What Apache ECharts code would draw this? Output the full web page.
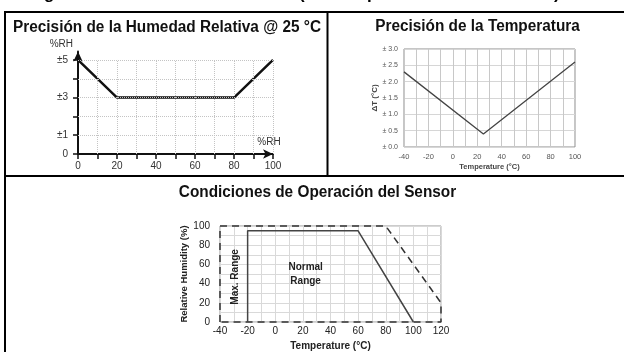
<!DOCTYPE html>
<html>
<head>
<meta charset="utf-8">
<script src="https://cdn.jsdelivr.net/npm/echarts@6/dist/echarts.min.js"></script>
<style>
  html, body { margin: 0; padding: 0; background: #fff; }
  #main { width: 624px; height: 352px; }
</style>
</head>
<body>
<div id="main"></div>
<script>
    // humedad relativa: error (%RH) vs %RH
    var rhPoints = [0, 20, 80, 100];
    var rhError = [5, 3, 3, 5];
    var rhTickLabels = [0, 1, 3, 5];
    var rhTicks = [0, 1, 2, 3, 4, 5];
    // temperatura: error (°C) vs temperatura
    var tPoints = [-40, 25, 100];
    var tError = [2.3, 0.4, 2.6];
    // condiciones de operacion
    var normalT = [-20, -20, 60, 100];
    var normalRH = [0, 95, 95, 0];
    var maxT = [-40, -40, 80, 120, 120, -40];
    var maxRH = [0, 100, 100, 20, 0, 0];
    var rangeNames = ['Max. Range', 'Normal\nRange'];

    var font = 'Liberation Sans';
    var myChart = echarts.init(document.getElementById('main'));

    function pairs(xs, ys) {
        return xs.map(function (x, i) { return [x, ys[i]]; });
    }
    function every20(v) {
        return v % 20 === 0 ? String(v) : '';
    }

    // dotted grid of the first panel, stops at ±5
    var rhGrid = [];
    for (var gx = 10; gx <= 100; gx += 10) {
        rhGrid.push([{ coord: [gx, 0] }, { coord: [gx, 5] }]);
    }
    for (var gy = 1; gy <= 5; gy++) {
        rhGrid.push([{ coord: [0, gy] }, { coord: [100, gy] }]);
    }

    function title(text, x, y) {
        return {
            type: 'text', x: x, y: y, scaleX: 0.96,
            style: { text: text, font: 'bold 16px ' + font, fill: '#111', align: 'center', verticalAlign: 'middle' }
        };
    }
    function rule(x1, y1, x2, y2) {
        return {
            type: 'line', shape: { x1: x1, y1: y1, x2: x2, y2: y2 },
            style: { stroke: '#000', lineWidth: 2 }
        };
    }
    function clipped(ch, x) {
        return {
            type: 'text', x: x, y: -6,
            style: { text: ch, font: 'bold 17px ' + font, fill: '#000', verticalAlign: 'middle' }
        };
    }

    var option = {
        animation: false,
        textStyle: { fontFamily: font },
        graphic: [
            rule(5, 12, 624, 12),
            rule(5, 11, 5, 352),
            rule(327.5, 12, 327.5, 176),
            rule(5, 176, 624, 176),
            title('Precisión de la Humedad Relativa @ 25 °C', 167, 28),
            title('Precisión de la Temperatura', 477.5, 27),
            title('Condiciones de Operación del Sensor', 317.5, 193),
            clipped('g', 44),
            clipped('(', 299),
            clipped('p', 367),
            clipped(')', 554)
        ],
        grid: [
            { left: 78, top: 51.5, width: 195, height: 102.5 },
            { left: 404, top: 49, width: 171, height: 98, show: true, borderColor: '#8c8c8c', borderWidth: 1 },
            { left: 220, top: 226, width: 221, height: 96, show: true, borderColor: '#999', borderWidth: 1 }
        ],
        xAxis: [{
            type: 'value', gridIndex: 0, min: 0, max: 100, interval: 10,
            axisLine: {
                show: true, onZero: false, symbol: ['none', 'arrow'], symbolSize: [7, 10],
                lineStyle: { color: '#111', width: 2 }
            },
            axisTick: { show: true, length: 5, lineStyle: { color: '#111', width: 1.5 } },
            axisLabel: { formatter: every20, color: '#333', fontSize: 10, margin: 7 },
            splitLine: { show: false },
            name: '%RH', nameLocation: 'end', nameGap: -4,
            nameTextStyle: { align: 'center', verticalAlign: 'bottom', padding: [0, 0, 7, 0], fontSize: 10, color: '#333' }
        }, {
            type: 'value', gridIndex: 1, min: -40, max: 100, interval: 10,
            axisLine: { show: false }, axisTick: { show: false },
            axisLabel: { formatter: every20, color: '#555', fontSize: 7.5, margin: 6 },
            splitLine: { show: true, lineStyle: { color: '#c8c8c8', width: 1 } },
            name: 'Temperature (°C)', nameLocation: 'middle', nameGap: 16,
            nameTextStyle: { fontSize: 7.5, fontWeight: 'bold', color: '#444' }
        }, {
            type: 'value', gridIndex: 2, min: -40, max: 120, interval: 10,
            axisLine: { show: false }, axisTick: { show: false },
            axisLabel: { formatter: every20, color: '#222', fontSize: 10, margin: 4 },
            splitLine: { show: true, lineStyle: { color: '#d9d9d9', width: 1 } },
            name: 'Temperature (°C)', nameLocation: 'middle', nameGap: 19,
            nameTextStyle: { fontSize: 10, fontWeight: 'bold', color: '#222' }
        }],
        yAxis: [{
            type: 'value', gridIndex: 0, min: 0, max: 5.45,
            axisLine: {
                show: true, onZero: false, symbol: ['none', 'arrow'], symbolSize: [7, 10],
                lineStyle: { color: '#111', width: 2 }
            },
            axisTick: { show: true, length: 5, customValues: rhTicks, lineStyle: { color: '#111', width: 1.5 } },
            axisLabel: {
                customValues: rhTickLabels, color: '#333', fontSize: 10, margin: 10,
                formatter: function (v) { return v === 0 ? '0' : '±' + v; }
            },
            splitLine: { show: false },
            name: '%RH', nameLocation: 'end', nameGap: 2,
            nameTextStyle: { align: 'right', padding: [0, 5, 0, 0], fontSize: 10, color: '#333' }
        }, {
            type: 'value', gridIndex: 1, min: 0, max: 3, interval: 0.5,
            axisLine: { show: false }, axisTick: { show: false },
            axisLabel: {
                color: '#555', fontSize: 7, margin: 6,
                formatter: function (v) { return '± ' + v.toFixed(1); }
            },
            splitLine: { show: true, lineStyle: { color: '#d6d6d6', width: 1 } },
            name: 'ΔT (°C)', nameLocation: 'middle', nameGap: 21,
            nameTextStyle: { fontSize: 8, fontWeight: 'bold', color: '#444' }
        }, {
            type: 'value', gridIndex: 2, min: 0, max: 100, interval: 10,
            axisLine: { show: false }, axisTick: { show: false },
            axisLabel: { formatter: every20, color: '#222', fontSize: 10, margin: 10 },
            splitLine: { show: true, lineStyle: { color: '#d9d9d9', width: 1 } },
            name: 'Relative Humidity (%)', nameLocation: 'middle', nameGap: 24,
            nameTextStyle: { fontSize: 9.5, fontWeight: 'bold', color: '#222' }
        }],
        series: [{
            type: 'line', xAxisIndex: 0, yAxisIndex: 0, data: [], z: 1, silent: true,
            markLine: {
                silent: true, symbol: ['none', 'none'], label: { show: false },
                lineStyle: { type: 'dotted', color: '#c4c4c4', width: 1 },
                emphasis: { disabled: true },
                data: rhGrid
            }
        }, {
            name: 'RH', type: 'line', xAxisIndex: 0, yAxisIndex: 0, z: 3, clip: false,
            data: pairs(rhPoints, rhError), showSymbol: false,
            lineStyle: { color: '#111', width: 2.5 }
        }, {
            name: 'T', type: 'line', xAxisIndex: 1, yAxisIndex: 1, clip: false,
            data: pairs(tPoints, tError), showSymbol: false,
            lineStyle: { color: '#444', width: 1.3 }
        }, {
            name: 'Max', type: 'line', xAxisIndex: 2, yAxisIndex: 2, clip: false,
            data: pairs(maxT, maxRH), showSymbol: false,
            lineStyle: { color: '#333', width: 1.5, type: [7, 5] }
        }, {
            name: 'Normal', type: 'line', xAxisIndex: 2, yAxisIndex: 2, clip: false,
            data: pairs(normalT, normalRH), showSymbol: false,
            lineStyle: { color: '#444', width: 1.5 },
            markPoint: {
                symbol: 'circle', symbolSize: 0, silent: true,
                label: { show: true, position: 'inside', formatter: '{b}', fontWeight: 'bold', fontSize: 10, color: '#222', lineHeight: 14 },
                data: [
                    { name: rangeNames[0], coord: [-29, 47], label: { rotate: 90 } },
                    { name: rangeNames[1], coord: [22, 50] }
                ]
            }
        }]
    };
    myChart.setOption(option);
</script>
</body>
</html>
